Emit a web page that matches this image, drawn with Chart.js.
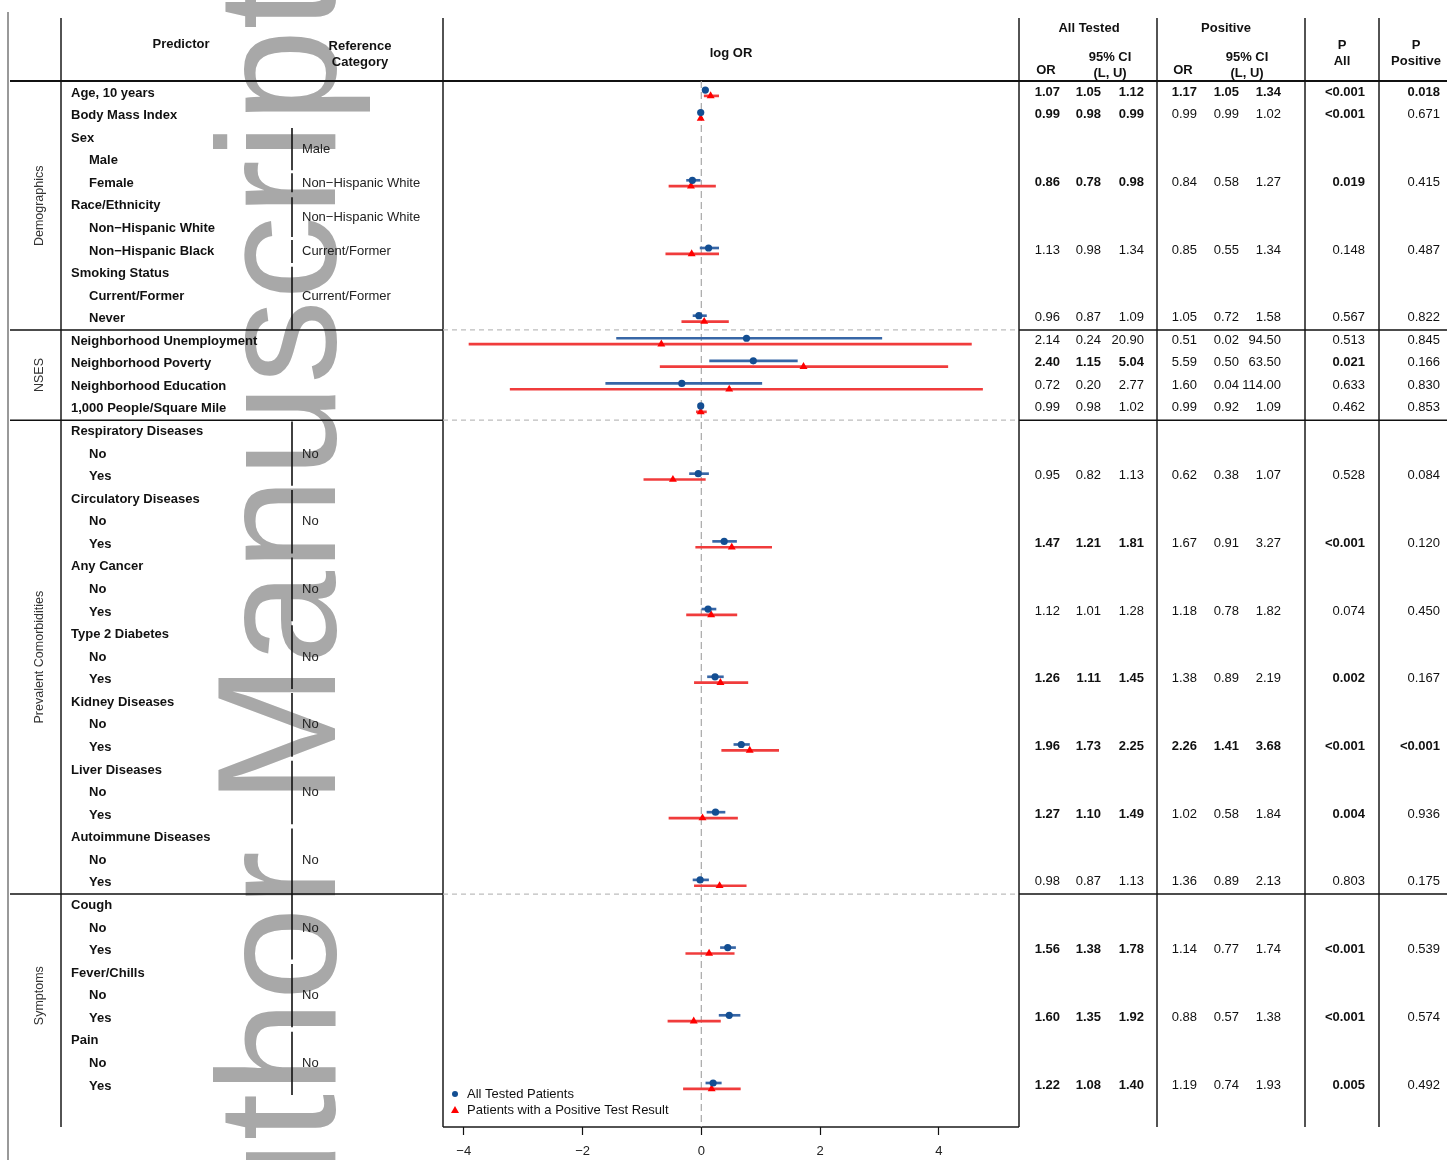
<!DOCTYPE html>
<html><head><meta charset="utf-8">
<script src="https://cdn.jsdelivr.net/npm/chart.js@4.4.1/dist/chart.umd.min.js"></script>
<style>html,body{margin:0;padding:0;background:#fff;}canvas{display:block;}</style>
</head><body>
<canvas id="c" width="1456" height="1160" style="width:1456px;height:1160px"></canvas>
<script>
// ---------------- DATA ----------------
const predictorLabels = [
  "Age, 10 years","Body Mass Index","Sex","Male","Female","Race/Ethnicity",
  "Non\u2212Hispanic White","Non\u2212Hispanic Black","Smoking Status","Current/Former","Never",
  "Neighborhood Unemployment","Neighborhood Poverty","Neighborhood Education","1,000 People/Square Mile",
  "Respiratory Diseases","No","Yes","Circulatory Diseases","No","Yes","Any Cancer","No","Yes",
  "Type 2 Diabetes","No","Yes","Kidney Diseases","No","Yes","Liver Diseases","No","Yes",
  "Autoimmune Diseases","No","Yes","Cough","No","Yes","Fever/Chills","No","Yes","Pain","No","Yes"
];
const labelIndent = [0,0,0,1,1,0,1,1,0,1,1, 0,0,0,0, 0,1,1,0,1,1,0,1,1,0,1,1,0,1,1,0,1,1,0,1,1, 0,1,1,0,1,1,0,1,1];
const groupNames = ["Demographics","NSES","Prevalent Comorbidities","Symptoms"];
const groupFirstRow = [0,11,15,36];
const groupLastRow = [10,14,35,44];
const refCategoryRows = [2.5,4,5.5,7,9,16,19,22,25,28,31,34,37,40,43];
const refCategoryText = ["Male","Non\u2212Hispanic White","Non\u2212Hispanic White","Current/Former","Current/Former",
  "No","No","No","No","No","No","No","No","No","No"];
const estimateRows = [0,1,4,7,10,11,12,13,14,17,20,23,26,29,32,35,38,41,44];
const orAll    = [1.07,0.99,0.86,1.13,0.96,2.14,2.40,0.72,0.99,0.95,1.47,1.12,1.26,1.96,1.27,0.98,1.56,1.60,1.22];
const lowerAll = [1.05,0.98,0.78,0.98,0.87,0.24,1.15,0.20,0.98,0.82,1.21,1.01,1.11,1.73,1.10,0.87,1.38,1.35,1.08];
const upperAll = [1.12,0.99,0.98,1.34,1.09,20.90,5.04,2.77,1.02,1.13,1.81,1.28,1.45,2.25,1.49,1.13,1.78,1.92,1.40];
const orPos    = [1.17,0.99,0.84,0.85,1.05,0.51,5.59,1.60,0.99,0.62,1.67,1.18,1.38,2.26,1.02,1.36,1.14,0.88,1.19];
const lowerPos = [1.05,0.99,0.58,0.55,0.72,0.02,0.50,0.04,0.92,0.38,0.91,0.78,0.89,1.41,0.58,0.89,0.77,0.57,0.74];
const upperPos = [1.34,1.02,1.27,1.34,1.58,94.50,63.50,114.00,1.09,1.07,3.27,1.82,2.19,3.68,1.84,2.13,1.74,1.38,1.93];
const pAll = ["<0.001","<0.001","0.019","0.148","0.567","0.513","0.021","0.633","0.462","0.528","<0.001","0.074","0.002","<0.001","0.004","0.803","<0.001","<0.001","0.005"];
const pPos = ["0.018","0.671","0.415","0.487","0.822","0.845","0.166","0.830","0.853","0.084","0.120","0.450","0.167","<0.001","0.936","0.175","0.539","0.574","0.492"];
const xTickValues = [-4,-2,0,2,4];
const legendLabels = ["All Tested Patients","Patients with a Positive Test Result"];

// ---------------- STYLE ----------------
const FONT = '"Liberation Sans", Arial, Helvetica, sans-serif';
const BLUE_PT = '#134e92', BLUE_LN = '#3766a6', RED_PT = '#ff0000', RED_LN = '#f03c3c';
const OFF = 0.13;
const isSig = p => p.startsWith('<') || parseFloat(p) < 0.05;

function T(ctx, s, x, y, o = {}) {
  ctx.font = (o.bold ? 'bold ' : '') + (o.size || 13) + 'px ' + FONT;
  ctx.fillStyle = o.color || '#111';
  ctx.textAlign = o.align || 'left';
  ctx.textBaseline = 'middle';
  ctx.fillText(s, x, y);
}
function L(ctx, x1, y1, x2, y2, color = '#1a1a1a', w = 1.5, dash = []) {
  ctx.save(); ctx.beginPath(); ctx.strokeStyle = color; ctx.lineWidth = w; ctx.setLineDash(dash);
  ctx.moveTo(x1, y1); ctx.lineTo(x2, y2); ctx.stroke(); ctx.restore();
}

const tablePlugin = {
  id: 'table',
  beforeDraw(chart) {
    const ctx = chart.ctx, ca = chart.chartArea, ys = chart.scales.y, xs = chart.scales.x;
    const yp = r => ys.getPixelForValue(r);
    ctx.save();
    ctx.fillStyle = '#fff'; ctx.fillRect(0, 0, chart.width, chart.height);

    // watermark
    ctx.save();
    ctx.font = '168px ' + FONT;
    ctx.translate(335, 1346);
    ctx.rotate(-Math.PI / 2);
    ctx.fillStyle = '#a8a8a8';
    ctx.textBaseline = 'alphabetic'; ctx.textAlign = 'left';
    ctx.fillText('Author Manuscript', 0, 0);
    ctx.restore();

    const TOP = 18, BOT = ca.bottom, RIGHT = 1447;
    // vertical lines
    L(ctx, 8, 12, 8, chart.height, '#777', 1.5);
    [61, 1157, 1305, 1379].forEach(x => L(ctx, x, TOP, x, BOT));
    L(ctx, ca.left, TOP, ca.left, BOT); L(ctx, ca.right, TOP, ca.right, BOT);
    L(ctx, ca.left, BOT, ca.right, BOT);
    // header line
    L(ctx, 10, ca.top, RIGHT, ca.top, '#111', 2);
    // separators
    groupLastRow.slice(0, -1).forEach(r => {
      const y = yp(r + 0.5);
      L(ctx, 10, y, ca.left, y, '#111', 1.5);
      L(ctx, ca.right, y, RIGHT, y, '#111', 1.5);
      L(ctx, ca.left, y, ca.right, y, '#bdbdbd', 1.2, [5, 4]);
    });
    // zero line
    const x0 = xs.getPixelForValue(0);
    L(ctx, x0, ca.top, x0, ca.bottom, '#a8a8a8', 1.2, [7, 4]);

    // reference category divider segments (row units)
    const segs = [[1.55,3.42],[3.56,4.4],[4.62,6.38],[6.52,7.53],[7.7,10.5],
      [14.56,17.41],[17.59,20.41],[20.59,23.41],[23.59,26.41],[26.59,29.41],[29.59,32.41],[32.59,38.4],[38.6,41.4],[41.6,44.4]];
    segs.forEach(s => L(ctx, 292, yp(s[0]), 292, yp(s[1]), '#111', 1.6));

    // headers
    const hb = { bold: true };
    T(ctx, 'Predictor', 181, 44, { ...hb, align: 'center' });
    T(ctx, 'Reference', 360, 46, { ...hb, align: 'center' });
    T(ctx, 'Category', 360, 62, { ...hb, align: 'center' });
    T(ctx, 'log OR', 731, 53, { ...hb, align: 'center' });
    T(ctx, 'All Tested', 1089, 28, { ...hb, align: 'center' });
    T(ctx, 'Positive', 1226, 28, { ...hb, align: 'center' });
    T(ctx, 'OR', 1046, 70, { ...hb, align: 'center' });
    T(ctx, '95% CI', 1110, 57, { ...hb, align: 'center' });
    T(ctx, '(L, U)', 1110, 73, { ...hb, align: 'center' });
    T(ctx, 'OR', 1183, 70, { ...hb, align: 'center' });
    T(ctx, '95% CI', 1247, 57, { ...hb, align: 'center' });
    T(ctx, '(L, U)', 1247, 73, { ...hb, align: 'center' });
    T(ctx, 'P', 1342, 45, { ...hb, align: 'center' });
    T(ctx, 'All', 1342, 61, { ...hb, align: 'center' });
    T(ctx, 'P', 1416, 45, { ...hb, align: 'center' });
    T(ctx, 'Positive', 1416, 61, { ...hb, align: 'center' });

    // group labels
    groupNames.forEach((g, i) => {
      const y = yp((groupFirstRow[i] + groupLastRow[i]) / 2);
      ctx.save(); ctx.translate(40, y); ctx.rotate(-Math.PI / 2);
      T(ctx, g, 0, 0, { size: 12.5, color: '#333', align: 'center' });
      ctx.restore();
    });
    // predictor labels
    predictorLabels.forEach((s, r) => T(ctx, s, labelIndent[r] ? 89 : 71, yp(r), { bold: true }));
    // reference categories
    refCategoryRows.forEach((r, i) => T(ctx, refCategoryText[i], 302, yp(r), { color: '#222' }));
    // numeric table
    estimateRows.forEach((r, i) => {
      const y = yp(r) - 1;
      const ba = isSig(pAll[i]), bp = isSig(pPos[i]);
      T(ctx, orAll[i].toFixed(2), 1060, y, { align: 'right', bold: ba });
      T(ctx, lowerAll[i].toFixed(2), 1101, y, { align: 'right', bold: ba });
      T(ctx, upperAll[i].toFixed(2), 1144, y, { align: 'right', bold: ba });
      T(ctx, orPos[i].toFixed(2), 1197, y, { align: 'right', bold: bp });
      T(ctx, lowerPos[i].toFixed(2), 1239, y, { align: 'right', bold: bp });
      T(ctx, upperPos[i].toFixed(2), 1281, y, { align: 'right', bold: bp });
      T(ctx, pAll[i], 1365, y, { align: 'right', bold: ba });
      T(ctx, pPos[i], 1440, y, { align: 'right', bold: bp });
    });
    ctx.restore();
  },
  afterDraw(chart) {
    const ctx = chart.ctx, ca = chart.chartArea;
    const lx = ca.left + 12;
    const y1 = ca.bottom - 33, y2 = ca.bottom - 17;
    ctx.save();
    ctx.fillStyle = BLUE_PT; ctx.beginPath(); ctx.arc(lx, y1, 3, 0, Math.PI * 2); ctx.fill();
    ctx.fillStyle = RED_PT; ctx.beginPath();
    ctx.moveTo(lx, y2 - 4); ctx.lineTo(lx + 4, y2 + 3); ctx.lineTo(lx - 4, y2 + 3); ctx.closePath(); ctx.fill();
    T(ctx, legendLabels[0], lx + 12, y1, { color: '#111' });
    T(ctx, legendLabels[1], lx + 12, y2, { color: '#111' });
    ctx.restore();
  }
};

const ln = Math.log;
new Chart(document.getElementById('c'), {
  data: {
    datasets: [
      { type: 'scatter', label: legendLabels[0], order: 0,
        data: estimateRows.map((r, i) => ({ x: ln(orAll[i]), y: r - OFF })),
        pointStyle: 'circle', pointRadius: 3.6, backgroundColor: BLUE_PT, borderWidth: 0 },
      { type: 'scatter', label: legendLabels[1], order: 0,
        data: estimateRows.map((r, i) => ({ x: ln(orPos[i]), y: r + OFF })),
        pointStyle: 'triangle', pointRadius: 4.6, backgroundColor: RED_PT, borderColor: RED_PT, borderWidth: 0 },
      { type: 'bar', label: 'CI all', order: 2, indexAxis: 'y', grouped: false, barThickness: 2,
        data: estimateRows.map((r, i) => ({ y: r - OFF, x: [ln(lowerAll[i]), ln(upperAll[i])] })),
        backgroundColor: BLUE_LN, borderWidth: 0 },
      { type: 'bar', label: 'CI pos', order: 1, indexAxis: 'y', grouped: false, barThickness: 2,
        data: estimateRows.map((r, i) => ({ y: r + OFF, x: [ln(lowerPos[i]), ln(upperPos[i])] })),
        backgroundColor: RED_LN, borderWidth: 0 }
    ]
  },
  options: {
    responsive: false, animation: false, devicePixelRatio: 1,
    layout: { padding: { left: 443, right: 437, top: 81, bottom: 0 } },
    plugins: { legend: { display: false }, tooltip: { enabled: false } },
    scales: {
      x: { type: 'linear', min: -4.35, max: 5.35, offset: false,
        afterBuildTicks: s => { s.ticks = xTickValues.map(v => ({ value: v })); },
        afterFit: s => { s.height = 33; },
        ticks: { padding: 9, color: '#222', font: { family: FONT, size: 13 },
          callback: v => v < 0 ? '\u2212' + Math.abs(v) : String(v) },
        grid: { drawOnChartArea: false, drawTicks: true, tickLength: 8, tickColor: '#111', tickWidth: 1.2 },
        border: { display: false } },
      y: { type: 'linear', min: -0.53, max: 45.82, reverse: true, offset: false, display: false,
        grid: { display: false } }
    }
  },
  plugins: [tablePlugin]
});
</script>
</body></html>
